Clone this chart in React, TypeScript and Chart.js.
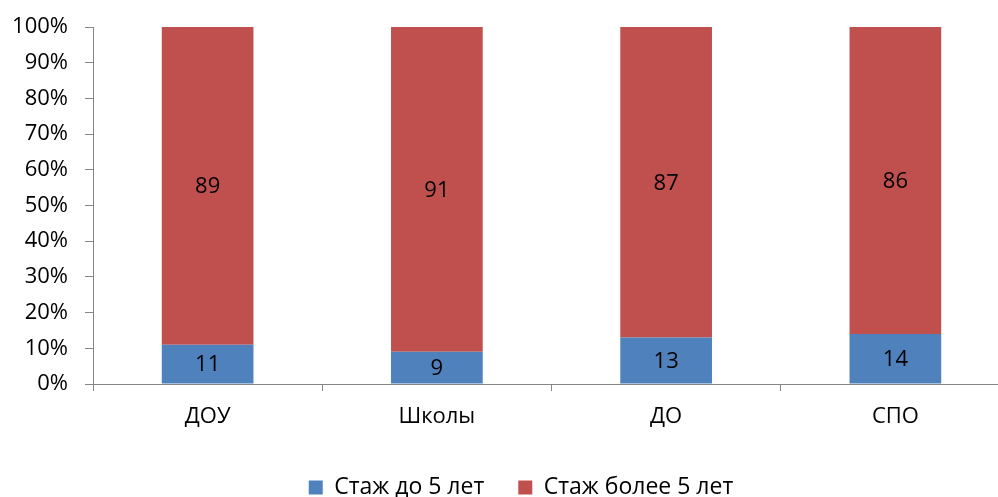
import React, { useEffect, useRef } from "react";
import { Chart, registerables } from "chart.js";

Chart.register(...registerables);

const categories = ["ДОУ", "Школы", "ДО", "СПО"];
const seriesNames = ["Стаж до 5 лет", "Стаж более 5 лет"];
const under5 = [11, 9, 13, 14];
const over5 = [89, 91, 87, 86];
const yTicks = [0, 10, 20, 30, 40, 50, 60, 70, 80, 90, 100];

const FONT = "'Open Sans', 'DejaVu Sans', sans-serif";
const AXIS = "#868686";

const dataLabels = {
  id: "dataLabels",
  afterDatasetsDraw(chart: any) {
    const ctx = chart.ctx;
    ctx.save();
    ctx.font = `22px ${FONT}`;
    ctx.fillStyle = "#000";
    ctx.textAlign = "center";
    ctx.textBaseline = "middle";
    chart.data.datasets.forEach((ds: any, di: number) => {
      const meta = chart.getDatasetMeta(di);
      meta.data.forEach((el: any, i: number) => {
        const p = el.getProps(["x", "y", "base"], true);
        ctx.fillText(String(ds.data[i]), p.x, (p.y + p.base) / 2 + 1);
      });
    });
    ctx.restore();
  },
};

const shiftLegend = {
  id: "shiftLegend",
  afterLayout(chart: any) {
    if (chart.legend) {
      chart.legend.left += 16;
      chart.legend.right += 16;
    }
  },
};

export default function App() {
  const ref = useRef<HTMLCanvasElement>(null);
  useEffect(() => {
    if (!ref.current) return;
    const chart = new Chart(ref.current, {
      type: "bar",
      data: {
        labels: categories,
        datasets: [
          {
            label: seriesNames[0],
            data: under5,
            backgroundColor: "#4F81BD",
            barPercentage: 0.8,
            categoryPercentage: 0.5,
          },
          {
            label: seriesNames[1],
            data: over5,
            backgroundColor: "#C0504D",
            barPercentage: 0.8,
            categoryPercentage: 0.5,
          },
        ],
      },
      options: {
        responsive: false,
        animation: false,
        devicePixelRatio: 1,
        layout: { padding: { left: 0, top: 27, right: 0, bottom: 0 } },
        plugins: {
          tooltip: { enabled: false },
          legend: {
            position: "bottom",
            labels: {
              boxWidth: 14,
              boxHeight: 14,
              padding: 34,
              color: "#000",
              font: { family: FONT, size: 23 },
            },
          },
        },
        scales: {
          x: {
            stacked: true,
            grid: {
              offset: true,
              drawOnChartArea: false,
              tickLength: 7,
              color: AXIS,
            },
            border: { color: AXIS },
            ticks: {
              color: "#000",
              padding: 13,
              font: { family: FONT, size: 22 },
              maxRotation: 0,
            },
            afterFit(scale: any) {
              scale.height = 58;
            },
          },
          y: {
            stacked: true,
            min: 0,
            max: 100,
            afterBuildTicks(scale: any) {
              scale.ticks = yTicks.map((v) => ({ value: v }));
            },
            grid: {
              drawOnChartArea: false,
              tickLength: 8,
              color: AXIS,
            },
            border: { color: AXIS },
            ticks: {
              color: "#000",
              padding: 17,
              font: { family: FONT, size: 22 },
              callback: (v: any) => v + "%",
            },
            afterFit(scale: any) {
              scale.width = 93;
              scale.paddingTop = 0;
              scale.paddingBottom = 0;
            },
          },
        },
      },
      plugins: [dataLabels, shiftLegend],
    });
    return () => chart.destroy();
  }, []);
  return (
    <div
      style={{
        position: "fixed",
        left: 0,
        top: 0,
        width: 998,
        height: 497,
        overflow: "hidden",
        background: "#fff",
      }}
    >
      <canvas
        ref={ref}
        width={1010}
        height={509}
        style={{ display: "block", width: 1010, height: 509 }}
      />
    </div>
  );
}
